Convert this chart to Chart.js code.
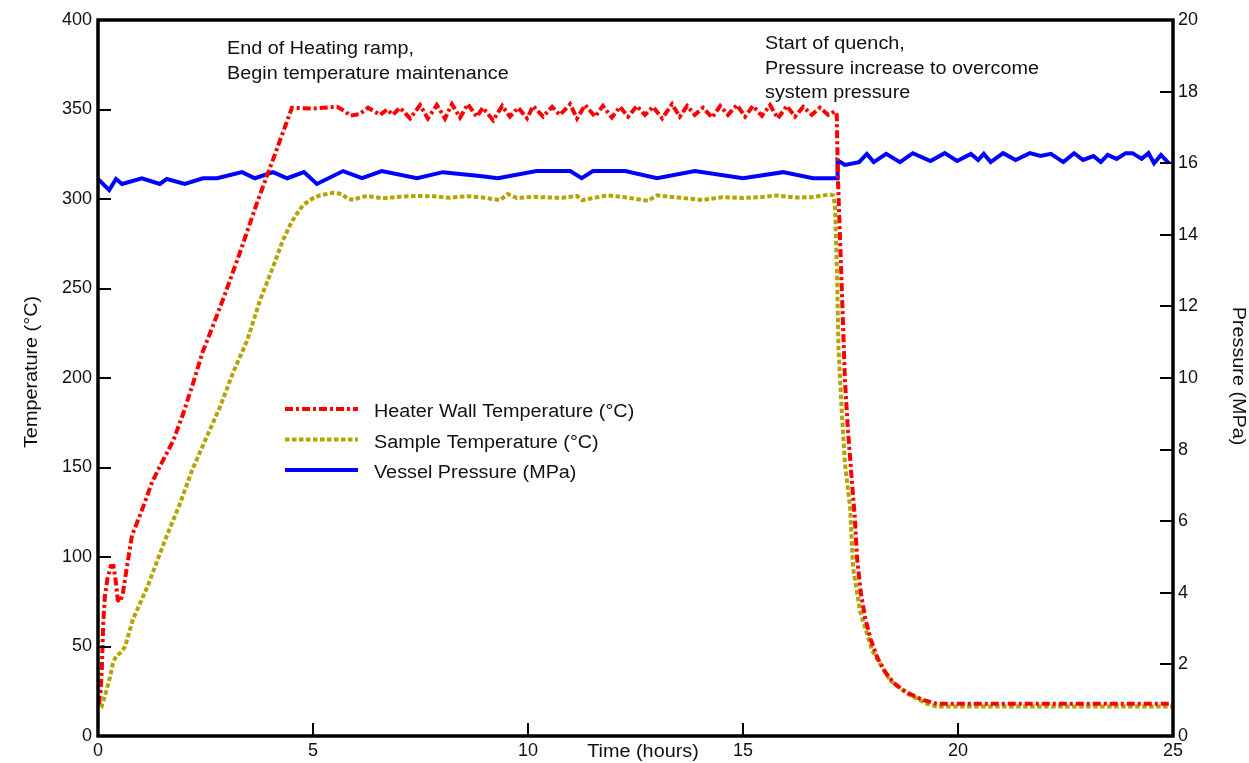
<!DOCTYPE html>
<html>
<head>
<meta charset="utf-8">
<title>Heater / sample temperature and vessel pressure</title>
<script src="https://cdn.jsdelivr.net/npm/chart.js@4.4.1/dist/chart.umd.min.js"></script>
<style>
  html, body { margin: 0; padding: 0; background: #fff; }
  #wrap { width: 1249px; height: 763px; }
</style>
</head>
<body>
<div id="wrap"><canvas id="chart" width="1249" height="763"></canvas></div>
<script>
// values
const heaterTime = [0.02, 0.06, 0.09, 0.12, 0.16, 0.22, 0.30, 0.36, 0.41, 0.46, 0.52, 0.58, 0.67, 0.79,
  1.05, 1.26, 1.49, 1.75, 1.98, 2.21, 2.44, 2.67, 2.91, 3.30, 3.70, 4.10, 4.51, 5.00, 5.56, 5.75, 5.86, 6.09,
  6.28, 6.56, 6.72, 6.86, 7.02, 7.26, 7.49, 7.67, 7.88, 8.07, 8.23, 8.42, 8.60, 8.81, 8.95, 9.19,
  9.40, 9.58, 9.77, 9.98, 10.12, 10.35, 10.56, 10.74, 10.98, 11.14, 11.33, 11.56, 11.74, 11.95,
  12.14, 12.33, 12.53, 12.72, 12.91, 13.12, 13.35, 13.53, 13.70, 13.88, 14.07, 14.28, 14.47, 14.65,
  14.86, 15.05, 15.23, 15.44, 15.63, 15.81, 16.02, 16.21, 16.40, 16.60, 16.79, 16.98, 17.14, 17.18,
  17.21, 17.29, 17.33, 17.37, 17.44, 17.53, 17.60, 17.65, 17.74, 17.84, 17.97, 18.12, 18.30, 18.49,
  18.70, 18.88, 19.20, 19.51, 25.00];
const heaterTemp = [18, 25, 38, 62, 78, 88, 95, 95, 87, 76, 75, 80, 94, 112,
  128, 142, 153, 165, 180, 197, 215, 229, 244, 270, 298, 324, 351, 350.5, 351.5, 349, 346.5, 347.5,
  351, 347, 350, 347, 351, 345, 352.5, 345, 352.5, 345, 353, 345.5, 353, 346, 351, 344,
  352, 346, 351, 345, 352, 346, 351.5, 347, 353, 345, 352.5, 346, 352, 345.5,
  351.5, 346, 352, 347, 351.5, 345, 353, 346, 352, 347, 351, 345.5, 352, 347,
  352.5, 346, 352, 346.5, 352.5, 345, 352, 346, 351.5, 347, 351, 347, 349, 347,
  310, 255, 227, 199, 171, 143, 122, 100, 80, 66, 54, 44, 36, 30,
  26, 23.5, 20, 18, 18];

const sampleTime = [0.05, 0.09, 0.18, 0.28, 0.35, 0.42, 0.55, 0.63, 0.81, 1.16, 1.56, 1.91, 2.19, 2.49,
  2.84, 3.14, 3.47, 3.77, 4.07, 4.30, 4.50, 4.63, 4.77, 5.00, 5.16, 5.47, 5.67, 5.81, 5.95, 6.10,
  6.26, 6.63, 7.02, 7.42, 7.79, 8.19, 8.58, 8.95, 9.35, 9.53, 9.74, 10.12, 10.51, 10.81, 11.14,
  11.26, 11.84, 12.30, 12.79, 13.00, 13.50, 14.05, 14.50, 15.00, 15.40, 15.79, 16.20, 16.60, 17.02, 17.10,
  17.14, 17.19, 17.22, 17.30, 17.37, 17.49, 17.56, 17.72, 18.00, 18.42, 18.80, 19.28, 19.50, 25.00];
const sampleTemp = [18, 17, 24, 33, 41, 44.5, 47, 50, 65, 84, 109.5, 130, 148.6, 165,
  184, 203, 221, 243.6, 262, 277, 287, 292, 296.6, 300.5, 302, 303.5, 302.8, 300, 299.5, 301,
  301.7, 300.4, 301.3, 301.7, 301.5, 300.7, 301.6, 300.8, 299.4, 302.8, 300.6, 301.2, 300.8, 300.7, 301.7,
  299.4, 302, 300.8, 299, 302, 300.8, 299.4, 301, 300.6, 301, 302, 300.8, 301, 302.5, 302,
  296, 255, 217, 180, 152.5, 128, 94, 70, 48, 31, 24, 18, 16.5, 16.5];

const pressureTime = [0.00, 0.26, 0.42, 0.56, 1.02, 1.44, 1.60, 2.02, 2.44, 2.77, 3.35, 3.65, 4.07, 4.40,
  4.79, 5.09, 5.70, 6.14, 6.60, 7.42, 8.02, 8.88, 9.30, 10.20, 10.98, 11.25, 11.51, 12.26, 13.00,
  13.88, 15.00, 15.93, 16.63, 17.19, 17.20, 17.37, 17.70, 17.88, 18.04, 18.33, 18.65, 18.95, 19.36,
  19.69, 19.98, 20.30, 20.47, 20.60, 20.76, 21.05, 21.34, 21.67, 21.92, 22.16, 22.45, 22.70, 22.91,
  23.15, 23.32, 23.48, 23.69, 23.90, 24.06, 24.27, 24.43, 24.56, 24.72, 24.90];
const pressureVal = [15.56, 15.25, 15.56, 15.42, 15.58, 15.42, 15.56, 15.42, 15.58, 15.58, 15.75, 15.58, 15.75, 15.58,
  15.75, 15.42, 15.78, 15.58, 15.78, 15.58, 15.75, 15.64, 15.58, 15.78, 15.78, 15.58, 15.78, 15.78, 15.58,
  15.78, 15.58, 15.75, 15.58, 15.58, 16.08, 15.95, 16.03, 16.26, 16.03, 16.26, 16.03, 16.28, 16.06,
  16.28, 16.06, 16.26, 16.09, 16.26, 16.03, 16.28, 16.09, 16.28, 16.20, 16.26, 16.03, 16.28, 16.09,
  16.20, 16.03, 16.23, 16.12, 16.28, 16.28, 16.12, 16.28, 16.00, 16.23, 16.00];

const timeTicks = [0, 5, 10, 15, 20, 25];
const tempTicks = [0, 50, 100, 150, 200, 250, 300, 350, 400];
const pressureTicks = [0, 2, 4, 6, 8, 10, 12, 14, 16, 18, 20];

const seriesLabels = ["Heater Wall Temperature (\u00B0C)", "Sample Temperature (\u00B0C)", "Vessel Pressure (MPa)"];
const heatNote = ["End of Heating ramp,", "Begin temperature maintenance"];
const quenchNote = ["Start of quench,", "Pressure increase to overcome", "system pressure"];

function pairs(xs, ys) {
    return xs.map((x, i) => ({ x: x, y: ys[i] }));
}

const FONT = '18px "Liberation Sans", Arial, sans-serif';
const INK = '#111';

// text a little wider than the plain font, as in the reference
function stretchedText(ctx, str, x, y, angle, align) {
    ctx.save();
    ctx.translate(x, y);
    ctx.rotate(angle);
    ctx.scale(1.1, 1);
    ctx.textAlign = align || 'left';
    ctx.textBaseline = 'alphabetic';
    ctx.fillText(str, 0, 0);
    ctx.restore();
}

const framePlugin = {
    id: 'frame',
    afterDraw(chart) {
        const ctx = chart.ctx;
        const a = chart.chartArea;
        const sx = chart.scales.x, sy = chart.scales.y, sp = chart.scales.y2;
        ctx.save();

        // inward tick marks
        ctx.strokeStyle = '#000';
        ctx.lineWidth = 2;
        ctx.beginPath();
        timeTicks.forEach(v => {
            const px = Math.round(sx.getPixelForValue(v));
            ctx.moveTo(px, a.bottom);
            ctx.lineTo(px, a.bottom - 13);
        });
        tempTicks.forEach(v => {
            const py = Math.round(sy.getPixelForValue(v));
            ctx.moveTo(a.left, py);
            ctx.lineTo(a.left + 13, py);
        });
        pressureTicks.forEach(v => {
            const py = Math.round(sp.getPixelForValue(v));
            ctx.moveTo(a.right, py);
            ctx.lineTo(a.right - 13, py);
        });
        ctx.stroke();

        // frame
        ctx.lineWidth = 3.5;
        ctx.strokeRect(a.left, a.top, a.right - a.left, a.bottom - a.top);

        // axis titles
        ctx.fillStyle = INK;
        ctx.font = FONT;
        stretchedText(ctx, 'Time (hours)', 643, 757, 0, 'center');
        stretchedText(ctx, 'Temperature (\u00B0C)', 37, 372, -Math.PI / 2, 'center');
        stretchedText(ctx, 'Pressure (MPa)', 1233, 376, Math.PI / 2, 'center');

        // notes
        heatNote.forEach((s, i) => stretchedText(ctx, s, 227, 54 + i * 24.5, 0));
        quenchNote.forEach((s, i) => stretchedText(ctx, s, 765, 49 + i * 24.5, 0));

        // legend inside the plot
        chart.data.datasets.forEach((ds, i) => {
            const y = 409 + i * 30.5;
            ctx.save();
            ctx.strokeStyle = ds.borderColor;
            ctx.lineWidth = ds.borderWidth;
            ctx.setLineDash(ds.borderDash || []);
            ctx.beginPath();
            ctx.moveTo(285, y);
            ctx.lineTo(358, y);
            ctx.stroke();
            ctx.restore();
            stretchedText(ctx, seriesLabels[i], 374, y + 8, 0);
        });

        ctx.restore();
    }
};

const tickFont = { family: '"Liberation Sans", Arial, sans-serif', size: 18 };

new Chart(document.getElementById('chart'), {
    type: 'line',
    data: {
        datasets: [{
            label: seriesLabels[0],
            data: pairs(heaterTime, heaterTemp),
            yAxisID: 'y',
            borderColor: '#ff0000',
            borderWidth: 4,
            borderDash: [8, 3, 3, 3],
            borderCapStyle: 'butt',
            pointRadius: 0,
            tension: 0,
            fill: false
        }, {
            label: seriesLabels[1],
            data: pairs(sampleTime, sampleTemp),
            yAxisID: 'y',
            borderColor: '#b5a300',
            borderWidth: 4,
            borderDash: [4.5, 2.5],
            borderCapStyle: 'butt',
            pointRadius: 0,
            tension: 0,
            fill: false
        }, {
            label: seriesLabels[2],
            data: pairs(pressureTime, pressureVal),
            yAxisID: 'y2',
            borderColor: '#0000ff',
            borderWidth: 4,
            pointRadius: 0,
            tension: 0,
            fill: false
        }]
    },
    options: {
        responsive: false,
        animation: false,
        devicePixelRatio: 1,
        layout: { padding: { top: 20, left: 0, right: 0, bottom: 0 } },
        plugins: { legend: { display: false }, tooltip: { enabled: false } },
        scales: {
            x: {
                type: 'linear',
                min: 0,
                max: 25,
                grid: { display: false, drawTicks: false },
                border: { display: false },
                ticks: { font: tickFont, color: INK, padding: 4, autoSkip: false, maxRotation: 0 },
                afterBuildTicks: s => { s.ticks = timeTicks.map(v => ({ value: v })); },
                afterFit: s => { s.height = 27; }
            },
            y: {
                position: 'left',
                min: 0,
                max: 400,
                grid: { display: false, drawTicks: false },
                border: { display: false },
                ticks: { font: tickFont, color: INK, padding: 6 },
                afterBuildTicks: s => { s.ticks = tempTicks.map(v => ({ value: v })); },
                afterFit: s => { s.width = 98; }
            },
            y2: {
                position: 'right',
                min: 0,
                max: 20,
                grid: { display: false, drawTicks: false },
                border: { display: false },
                ticks: { font: tickFont, color: INK, padding: 5 },
                afterBuildTicks: s => { s.ticks = pressureTicks.map(v => ({ value: v })); },
                afterFit: s => { s.width = 76; }
            }
        }
    },
    plugins: [framePlugin]
});
</script>
</body>
</html>
